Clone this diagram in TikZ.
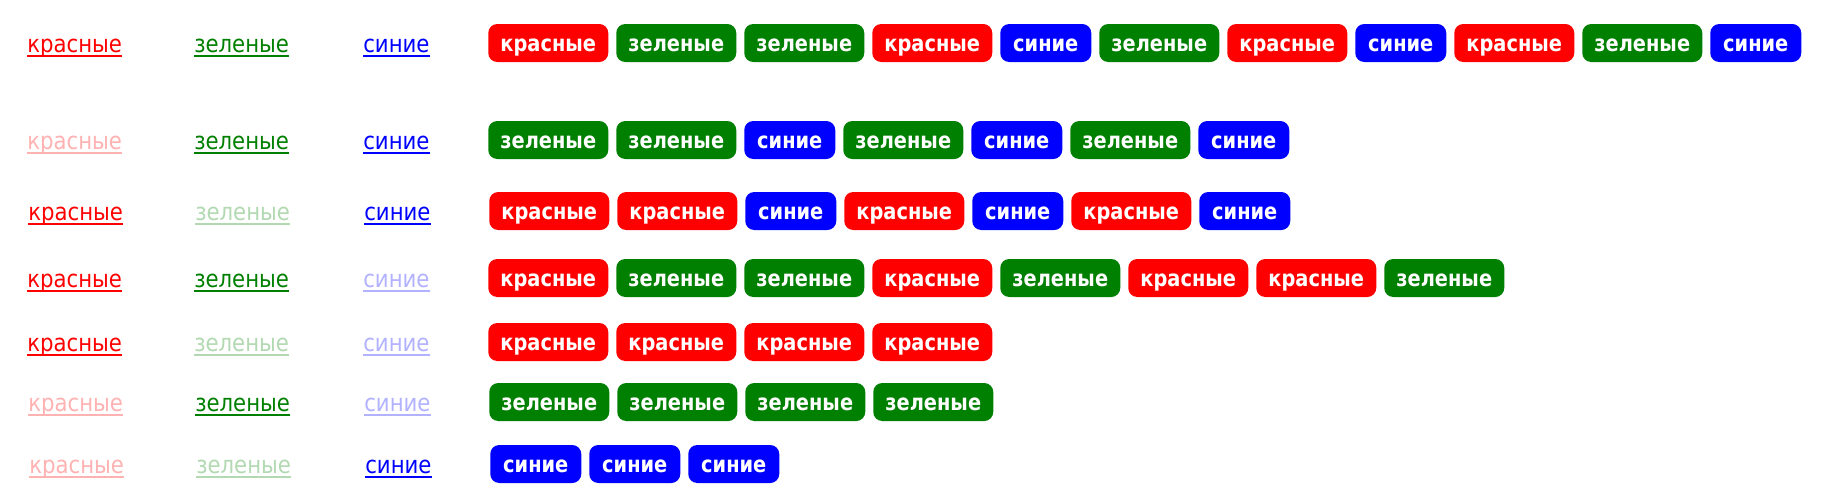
\documentclass[tikz,border=0pt]{standalone}
\usepackage{fontspec}
\setmainfont{DejaVu Sans}[FakeStretch=0.885]
\newfontfamily\badgefont{DejaVu Sans}[FakeStretch=0.86]
\usetikzlibrary{positioning}
\definecolor{cr}{RGB}{255,0,0}
\definecolor{cg}{RGB}{0,128,0}
\definecolor{cb}{RGB}{0,0,255}
\colorlet{crf}{cr!30!white}
\colorlet{cgf}{cg!30!white}
\colorlet{cbf}{cb!30!white}
\def\txtr{красные}
\def\txtg{зеленые}
\def\txtb{синие}
\newcommand\ullabel[5]{%
  \node[lab, text=#4] (#1) at (#2,#3) {#5};
  \fill[#4] ([yshift=-2.25pt]#1.base west) rectangle ([yshift=-3.75pt]#1.base east);}
\begin{document}
\begin{tikzpicture}[x=0.75pt,y=-0.75pt,
  lab/.style={anchor=base west, inner sep=0pt, font=\fontsize{18pt}{22pt}\selectfont},
  badge/.style={anchor=west, rounded corners=6.75pt, inner sep=0pt, minimum height=28.5pt,
    text=white, font=\badgefont\bfseries\fontsize{16.9pt}{20pt}\selectfont,
    text height=14.25pt, text depth=1.2pt},
  br/.style={badge, fill=cr, minimum width=90pt},
  bg/.style={badge, fill=cg, minimum width=90pt},
  bb/.style={badge, fill=cb, minimum width=68.25pt}]
\fill[white] (0,0) rectangle (1832,500);
\useasboundingbox (0,0) rectangle (1832,500);
\foreach \r/\y/\dx/\ca/\cbb/\cc/\seq in {
  1/43/0/cr/cg/cb/{r,g,g,r,b,g,r,b,r,g,b},
  2/140/0/crf/cg/cb/{g,g,b,g,b,g,b},
  3/211/1/cr/cgf/cb/{r,r,b,r,b,r,b},
  4/278/0/cr/cg/cbf/{r,g,g,r,g,r,r,g},
  5/342/0/cr/cgf/cbf/{r,r,r,r},
  6/402/1/crf/cg/cbf/{g,g,g,g},
  7/464/2/crf/cgf/cb/{b,b,b}}{
  \ullabel{L\r a}{27+\dx}{\y+9}{\ca}{красные}
  \ullabel{L\r b}{194+\dx}{\y+9}{\cbb}{зеленые}
  \ullabel{L\r c}{363+\dx}{\y+9}{\cc}{синие}
  \foreach \c [count=\i] in \seq {
    \pgfmathtruncatemacro\prev{\i-1}
    \ifnum\i=1
      \node[b\c] (R\r-\i) at (488+\dx,\y) {\csname txt\c\endcsname};
    \else
      \node[b\c, right=5.6pt of R\r-\prev] (R\r-\i) {\csname txt\c\endcsname};
    \fi
  }
}
\end{tikzpicture}
\end{document}
